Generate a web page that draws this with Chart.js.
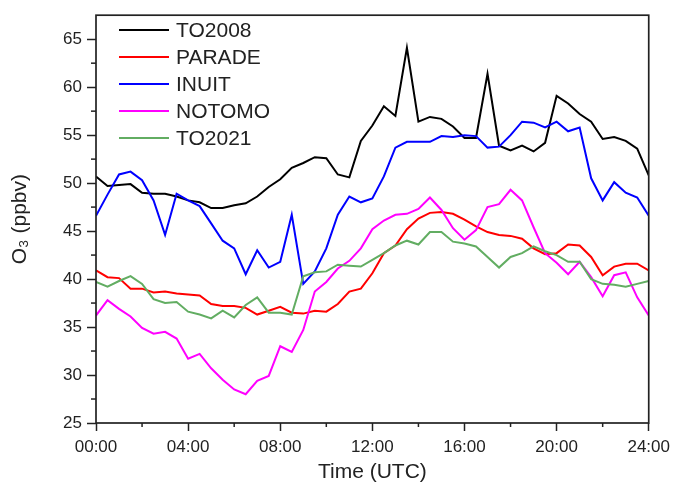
<!DOCTYPE html>
<html>
<head>
<meta charset="utf-8">
<script src="https://cdn.jsdelivr.net/npm/chart.js@4.4.1/dist/chart.umd.min.js"></script>
<style>
  html, body { margin: 0; padding: 0; background: #fff; }
  #wrap { position: relative; width: 676px; height: 493px; }
  #legend { position: absolute; left: 119px; top: 17px; font-family: 'Liberation Sans', Arial, sans-serif; font-size: 21px; color: #222; }
  .row { position: relative; height: 26.9px; }
  .row i { position: absolute; left: 0; top: 12px; width: 50px; height: 2px; }
  .row span { position: absolute; left: 57px; top: 0; line-height: 26px; }
</style>
</head>
<body>
<div id="wrap">
  <canvas id="chart" width="676" height="493"></canvas>
  <div id="legend"></div>
</div>
<script>
// half-hourly time axis (hours UTC)
const hours = [0, 0.5, 1, 1.5, 2, 2.5, 3, 3.5, 4, 4.5, 5, 5.5, 6, 6.5, 7, 7.5, 8, 8.5, 9, 9.5,
  10, 10.5, 11, 11.5, 12, 12.5, 13, 13.5, 14, 14.5, 15, 15.5, 16, 16.5, 17, 17.5, 18, 18.5, 19, 19.5,
  20, 20.5, 21, 21.5, 22, 22.5, 23, 23.5, 24];

const to2008 = [50.7, 49.7, 49.8, 49.9, 49.0, 48.9, 48.9, 48.6, 48.2, 48.0, 47.4, 47.4, 47.7, 47.9, 48.6, 49.6,
  50.4, 51.6, 52.1, 52.7, 52.6, 50.9, 50.6, 54.4, 56.0, 58.0, 57.0, 64.1, 56.4, 56.9, 56.7, 55.9, 54.7, 54.7,
  61.4, 53.9, 53.4, 53.9, 53.3, 54.2, 59.1, 58.3, 57.2, 56.4, 54.6, 54.8, 54.4, 53.6, 50.8];
const parade = [40.9, 40.2, 40.1, 39.0, 39.0, 38.6, 38.7, 38.5, 38.4, 38.3, 37.4, 37.2, 37.2, 37.0, 36.3, 36.7,
  37.1, 36.5, 36.4, 36.7, 36.6, 37.4, 38.7, 39.0, 40.6, 42.7, 43.5, 45.2, 46.3, 46.9, 47.0, 46.8, 46.2, 45.5,
  44.9, 44.6, 44.5, 44.2, 43.2, 42.6, 42.7, 43.6, 43.5, 42.3, 40.4, 41.3, 41.6, 41.6, 40.9];
const inuit = [46.6, 48.8, 50.9, 51.2, 50.3, 48.2, 44.6, 48.9, 48.2, 47.6, 45.8, 44.0, 43.2, 40.5, 43.0, 41.2,
  41.8, 46.7, 39.5, 40.8, 43.2, 46.7, 48.6, 48.0, 48.4, 50.7, 53.7, 54.3, 54.3, 54.3, 54.9, 54.8, 55.0, 54.9,
  53.7, 53.8, 55.0, 56.4, 56.3, 55.8, 56.4, 55.4, 55.8, 50.5, 48.2, 50.1, 49.0, 48.5, 46.6];
const notomo = [36.2, 37.8, 36.9, 36.1, 34.9, 34.3, 34.5, 33.8, 31.7, 32.2, 30.7, 29.5, 28.5, 28.0, 29.4, 29.9,
  33.0, 32.4, 34.7, 38.7, 39.7, 41.1, 41.9, 43.2, 45.2, 46.1, 46.7, 46.8, 47.3, 48.5, 47.2, 45.3, 44.1, 45.1,
  47.5, 47.8, 49.3, 48.2, 45.4, 42.7, 41.7, 40.5, 41.8, 40.2, 38.2, 40.4, 40.7, 38.1, 36.2];
const to2021 = [39.7, 39.2, 39.8, 40.3, 39.5, 37.9, 37.5, 37.6, 36.6, 36.3, 35.9, 36.7, 36.0, 37.3, 38.1, 36.5,
  36.5, 36.3, 40.3, 40.7, 40.8, 41.5, 41.4, 41.3, 42.0, 42.7, 43.5, 44.0, 43.6, 44.9, 44.9, 43.9, 43.7, 43.4,
  42.3, 41.2, 42.3, 42.7, 43.4, 42.9, 42.5, 41.8, 41.8, 40.0, 39.5, 39.4, 39.2, 39.5, 39.8];

const names = ['TO2008', 'PARADE', 'INUIT', 'NOTOMO', 'TO2021'];
const series = [to2008, parade, inuit, notomo, to2021];
const colors = ['#000000', '#ff0000', '#0000ff', '#ff00ff', '#62ad62'];

const FONT = "'Liberation Sans', Arial, sans-serif";
const INK = '#222';

const isMajorX = v => v % 4 === 0;
const isMajorY = v => v % 5 === 0 && v <= 65;

// short minor ticks + closed frame
const framePlugin = {
  id: 'frame',
  afterDraw(chart) {
    const { ctx, chartArea: a, scales } = chart;
    ctx.save();
    ctx.strokeStyle = INK;
    ctx.lineWidth = 1.5;
    scales.x.ticks.forEach(t => {
      if (isMajorX(t.value)) return;
      const px = scales.x.getPixelForValue(t.value);
      ctx.beginPath(); ctx.moveTo(px, a.bottom); ctx.lineTo(px, a.bottom + 4); ctx.stroke();
    });
    scales.y.ticks.forEach(t => {
      if (isMajorY(t.value) || t.value > 65) return;
      const py = scales.y.getPixelForValue(t.value);
      ctx.beginPath(); ctx.moveTo(a.left, py); ctx.lineTo(a.left - 5, py); ctx.stroke();
    });
    ctx.lineWidth = 1.7;
    ctx.strokeRect(a.left, a.top, a.right - a.left, a.bottom - a.top);
    ctx.restore();
  }
};

new Chart(document.getElementById('chart'), {
  type: 'line',
  data: {
    datasets: series.map((s, i) => ({
      label: names[i],
      data: s.map((v, j) => ({ x: hours[j], y: v })),
      borderColor: colors[i],
      backgroundColor: colors[i],
      borderWidth: 2,
      pointRadius: 0,
      tension: 0,
      order: series.length - 1 - i
    }))
  },
  options: {
    responsive: false,
    animation: false,
    layout: { padding: { top: 13, right: 27, left: 0, bottom: 0 } },
    plugins: { legend: { display: false }, tooltip: { enabled: false } },
    scales: {
      x: {
        type: 'linear',
        min: 0, max: 24,
        afterFit: s => { s.height = 70; },
        border: { display: false },
        grid: {
          drawOnChartArea: false, drawTicks: true, tickLength: 8, tickWidth: 1.5,
          tickColor: c => isMajorX(c.tick.value) ? INK : 'rgba(0,0,0,0)'
        },
        ticks: {
          stepSize: 2, autoSkip: false, maxRotation: 0, padding: 6,
          color: INK, font: { family: FONT, size: 17 },
          callback: v => isMajorX(v) ? String(v).padStart(2, '0') + ':00' : ''
        },
        title: {
          display: true, text: 'Time (UTC)', color: INK,
          font: { family: FONT, size: 21 }, padding: { top: 0, bottom: 8 }
        }
      },
      y: {
        min: 25, max: 67.5,
        afterFit: s => { s.width = 96; },
        border: { display: false },
        grid: {
          drawOnChartArea: false, drawTicks: true, tickLength: 9, tickWidth: 1.5,
          tickColor: c => isMajorY(c.tick.value) ? INK : 'rgba(0,0,0,0)'
        },
        ticks: {
          stepSize: 2.5, autoSkip: false, padding: 5,
          color: INK, font: { family: FONT, size: 17 },
          callback: v => isMajorY(v) ? v : ''
        },
        title: {
          display: true, text: 'O\u2083 (ppbv)', color: INK,
          font: { family: FONT, size: 21 }, padding: { top: 8, bottom: 0 }
        }
      }
    }
  },
  plugins: [framePlugin]
});

// legend inside the plot, top-left
const legend = document.getElementById('legend');
names.forEach((n, i) => {
  const row = document.createElement('div');
  row.className = 'row';
  row.innerHTML = '<i style="background:' + colors[i] + '"></i><span>' + n + '</span>';
  legend.appendChild(row);
});
</script>
</body>
</html>
